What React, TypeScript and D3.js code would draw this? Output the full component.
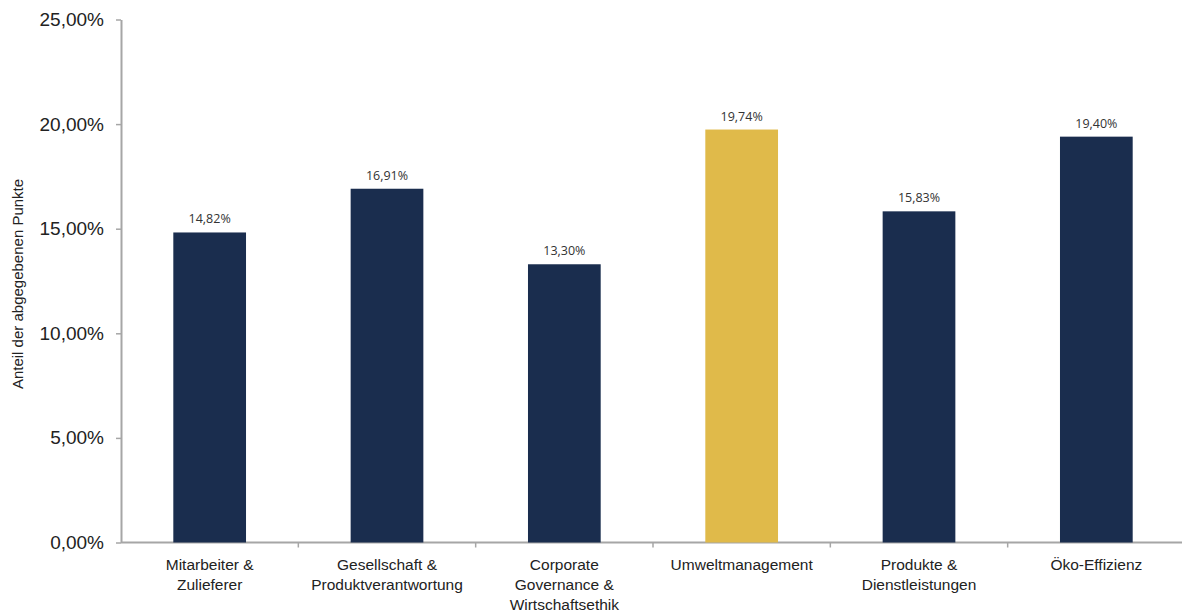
import * as d3 from "d3";
import { useEffect, useRef } from "react";

const categories = [
  ["Mitarbeiter &", "Zulieferer"],
  ["Gesellschaft &", "Produktverantwortung"],
  ["Corporate", "Governance &", "Wirtschaftsethik"],
  ["Umweltmanagement"],
  ["Produkte &", "Dienstleistungen"],
  ["Öko-Effizienz"],
];
const values = [0.1482, 0.1691, 0.133, 0.1974, 0.1583, 0.194];
const highlighted = [false, false, false, true, false, false];
const yTicks = [0, 0.05, 0.1, 0.15, 0.2, 0.25];

const width = 1182;
const height = 612;
const margin = { top: 19.5, right: -3, bottom: 69.5, left: 121 };

const de = d3.formatLocale({
  decimal: ",",
  thousands: ".",
  grouping: [3],
  currency: ["", " €"],
});
const pct = de.format(".2%");

function drawChart(el: SVGSVGElement) {
  const svg = d3.select(el);
  svg.selectAll("*").remove();

  const keys = categories.map((c) => c.join(" "));
  const x = d3
    .scaleBand()
    .domain(keys)
    .range([margin.left, width - margin.right])
    .paddingInner(0.59)
    .paddingOuter(0.295);
  const y = d3
    .scaleLinear()
    .domain([0, 0.25])
    .range([height - margin.bottom, margin.top]);

  // y axis
  const yAxis = svg
    .append("g")
    .attr("transform", `translate(${margin.left},0)`)
    .call(d3.axisLeft(y).tickValues(yTicks).tickFormat(pct).tickSize(5).tickSizeOuter(0));
  yAxis.select(".domain").attr("stroke", "#a6a6a6").attr("stroke-width", 2);
  yAxis.selectAll(".tick line").attr("stroke", "#a6a6a6").attr("stroke-width", 1.5);
  yAxis
    .selectAll(".tick text")
    .attr("x", -17)
    .attr("fill", "#222")
    .style("font-family", "'Liberation Sans', Arial, sans-serif")
    .style("font-size", "19px");

  // x axis: category separators
  const step = x.step();
  const xAxis = svg.append("g");
  xAxis
    .append("line")
    .attr("x1", margin.left)
    .attr("x2", width)
    .attr("y1", y(0))
    .attr("y2", y(0))
    .attr("stroke", "#a6a6a6")
    .attr("stroke-width", 2);
  xAxis
    .selectAll("line.sep")
    .data(keys.slice(1))
    .enter()
    .append("line")
    .classed("sep", true)
    .attr("x1", (d) => (x(d) as number) - (step - x.bandwidth()) / 2)
    .attr("x2", (d) => (x(d) as number) - (step - x.bandwidth()) / 2)
    .attr("y1", y(0))
    .attr("y2", y(0) + 5)
    .attr("stroke", "#a6a6a6")
    .attr("stroke-width", 1.5);

  // bars
  svg
    .selectAll("rect.bar")
    .data(values)
    .enter()
    .append("rect")
    .classed("bar", true)
    .attr("x", (d, i) => x(keys[i]) as number)
    .attr("width", x.bandwidth())
    .attr("y", (d) => y(d))
    .attr("height", (d) => y(0) - y(d))
    .attr("fill", (d, i) => (highlighted[i] ? "#e0ba4a" : "#1a2d4e"));

  // value labels
  svg
    .selectAll("text.val")
    .data(values)
    .enter()
    .append("text")
    .classed("val", true)
    .attr("x", (d, i) => (x(keys[i]) as number) + x.bandwidth() / 2)
    .attr("y", (d) => y(d) - 9)
    .attr("text-anchor", "middle")
    .attr("fill", "#333")
    .style("font-family", "'Open Sans', 'Noto Sans', sans-serif")
    .style("font-size", "12.5px")
    .text((d) => pct(d));

  // category labels
  const labels = svg
    .selectAll("text.cat")
    .data(categories)
    .enter()
    .append("text")
    .classed("cat", true)
    .attr("text-anchor", "middle")
    .attr("fill", "#222")
    .style("font-family", "'Liberation Sans', Arial, sans-serif")
    .style("font-size", "15.5px");
  labels
    .selectAll("tspan")
    .data((d) => d.map((line, j) => ({ line, j, key: d.join(" ") })))
    .enter()
    .append("tspan")
    .attr("x", (d) => (x(d.key) as number) + x.bandwidth() / 2)
    .attr("y", (d) => y(0) + 27 + d.j * 20)
    .text((d) => d.line);

  // y axis title
  svg
    .append("text")
    .attr("transform", `translate(23,${(y(0) + y(0.25)) / 2 + 3}) rotate(-90)`)
    .attr("text-anchor", "middle")
    .attr("fill", "#222")
    .style("font-family", "'Liberation Sans', Arial, sans-serif")
    .style("font-size", "15px")
    .text("Anteil der abgegebenen Punkte");
}

export default function App() {
  const ref = useRef<SVGSVGElement>(null);
  useEffect(() => {
    if (ref.current) drawChart(ref.current);
  }, []);
  return (
    <div style={{ position: "absolute", left: 0, top: 0, background: "#fff" }}>
      <svg ref={ref} width={width} height={height}></svg>
    </div>
  );
}
